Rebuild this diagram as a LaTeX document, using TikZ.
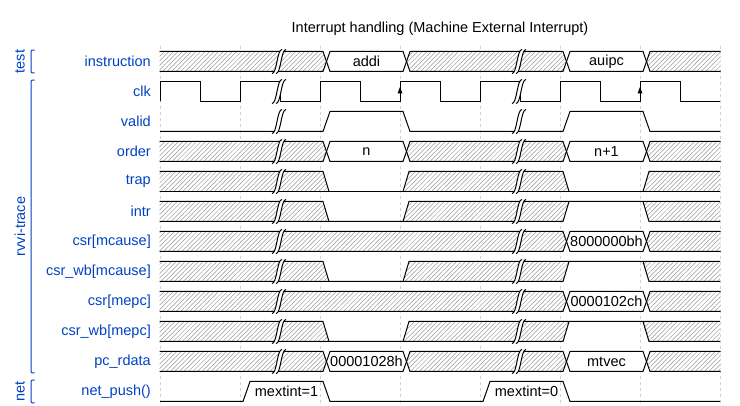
\documentclass[tikz,border=0pt]{standalone}
\usepackage{fontspec}
\setmainfont{Liberation Sans}
\usetikzlibrary{patterns.meta}
\definecolor{wblue}{HTML}{0041C4}
\newcommand{\wavefont}{\fontsize{14.5}{17}\selectfont}
% bus segment between two cycle edges, hatched or with a value
\newcommand{\xseg}[2]{\draw[wave,hatch] (#1+6.5,10) -- (#1+10,0) -- (#2+3,0) -- (#2+6.5,10) -- (#2+3,20) -- (#1+10,20) -- cycle;}
\newcommand{\dseg}[4]{\draw[wave,fill=white] (#1+6.5,10) -- (#1+10,0) -- (#2+3,0) -- (#2+6.5,10) -- (#2+3,20) -- (#1+10,20) -- cycle;
	\node (#3) at ({(#1+#2)/2+6.5},10) {#4};}
% x, 0, x, 1, x
\newcommand{\flagrow}{%
	\path[hatch] (140,0) -- (323,0) -- (329,20) -- (140,20) -- cycle;
	\path[hatch] (403,20) -- (409,0) -- (569,0) -- (563,20) -- cycle;
	\path[hatch] (643,0) -- (720,0) -- (720,20) -- (649,20) -- cycle;
	\draw[wave] (140,0) -- (323,0) -- (329,20);
	\draw[wave] (403,20) -- (409,0) -- (720,0);
	\draw[wave] (140,20) -- (563,20) -- (569,0);
	\draw[wave] (643,0) -- (649,20) -- (720,20);}
\newcommand{\gapmark}[1]{%
	\fill[white] (#1-7,22) .. controls (#1-2,22) and (#1-2,-2) .. (#1+3,-2) -- (#1+7,-2) .. controls (#1+2,-2) and (#1+2,22) .. (#1-3,22) -- cycle;
	\draw[wave] (#1-7,22) .. controls (#1-2,22) and (#1-2,-2) .. (#1+3,-2);
	\draw[wave] (#1-3,22) .. controls (#1+2,22) and (#1+2,-2) .. (#1+7,-2);}

\begin{document}
\begin{tikzpicture}[x=1pt,y=-1pt,every node/.style={font=\wavefont,inner sep=0pt},
	wave/.style={line width=1pt},
	hatch/.style={preaction={fill=white},pattern={Lines[angle=45,distance=3.2pt,line width=0.5pt]},pattern color=gray!80},
	siglbl/.style={anchor=east,text=wblue},
	grplbl/.style={rotate=90,text=wblue},
	brace/.style={wblue,line width=1pt},
	gridline/.style={gray!35,dash pattern=on 3pt off 3pt,line width=0.6pt}]
	\useasboundingbox (0,0) rectangle (740,406);
	\node (title) at (440,29) {Interrupt handling (Machine External Interrupt)};
	\foreach \gx in {160,240,...,720}
		\draw[gridline] (\gx,46) -- (\gx,406);
	% signal names
	\foreach \lbl/\nm [count=\k from 0] in {instruction/instr,clk/clk,valid/valid,order/order,trap/trap,intr/intr,{csr[mcause]}/mcause,{csr\_wb[mcause]}/wbmcause,{csr[mepc]}/mepc,{csr\_wb[mepc]}/wbmepc,pc\_rdata/pcr,net\_push()/push}
		\node[siglbl] (l\nm) at (151,61.5+30*\k) {\lbl};
	% groups
	\draw[brace] (34.5,50) .. controls (31,50) .. (31,54) -- (31,69) .. controls (31,73) .. (34.5,73);
	\node[grplbl] (gtest) at (20,61.5) {test};
	\draw[brace] (34.5,80) .. controls (31,80) .. (31,84) -- (31,369) .. controls (31,373) .. (34.5,373);
	\node[grplbl] (grvvi) at (20,226.5) {rvvi-trace};
	\draw[brace] (34.5,380) .. controls (31,380) .. (31,384) -- (31,399) .. controls (31,403) .. (34.5,403);
	\node[grplbl] (gnet) at (20,391.5) {net};
	\begin{scope}
		\clip (159.5,0) rectangle (720.5,406);
		% instruction
		\begin{scope}[shift={(0,51.5)}]
			\xseg{140}{320} \dseg{320}{400}{addi}{addi} \xseg{400}{560}
			\dseg{560}{640}{auipc}{auipc} \xseg{640}{720}
		\end{scope}
		% clk
		\begin{scope}[shift={(0,81.5)}]
			\draw[wave] (160,20) \foreach \cx in {160,240,...,640} { -- (\cx,0) -- (\cx+40,0) -- (\cx+40,20) -- (\cx+80,20) };
			\fill (400,5.5) -- (397.5,12) -- (402.5,12) -- cycle;
			\fill (640,5.5) -- (637.5,12) -- (642.5,12) -- cycle;
		\end{scope}
		% valid
		\begin{scope}[shift={(0,111.5)}]
			\draw[wave] (160,20) -- (323,20) -- (330,0) -- (403,0) -- (410,20) -- (563,20) -- (570,0) -- (643,0) -- (650,20) -- (720,20);
		\end{scope}
		% order
		\begin{scope}[shift={(0,141.5)}]
			\xseg{140}{320} \dseg{320}{400}{ordn}{n} \xseg{400}{560}
			\dseg{560}{640}{ordnn}{n+1} \xseg{640}{720}
		\end{scope}
		% trap
		\begin{scope}[shift={(0,171.5)}]
			\path[hatch] (140,0) -- (323,0) -- (329,20) -- (140,20) -- cycle;
			\path[hatch] (403,20) -- (409,0) -- (563,0) -- (569,20) -- cycle;
			\path[hatch] (643,20) -- (649,0) -- (720,0) -- (720,20) -- cycle;
			\draw[wave] (140,0) -- (323,0) -- (329,20);
			\draw[wave] (403,20) -- (409,0) -- (563,0) -- (569,20);
			\draw[wave] (643,20) -- (649,0) -- (720,0);
			\draw[wave] (140,20) -- (720,20);
		\end{scope}
		% intr
		\begin{scope}[shift={(0,201.5)}]
			\flagrow
		\end{scope}
		% csr[mcause]
		\begin{scope}[shift={(0,231.5)}]
			\xseg{140}{560} \dseg{560}{640}{mcv}{8000000bh} \xseg{640}{720}
		\end{scope}
		% csr_wb[mcause]
		\begin{scope}[shift={(0,261.5)}]
			\flagrow
		\end{scope}
		% csr[mepc]
		\begin{scope}[shift={(0,291.5)}]
			\xseg{140}{560} \dseg{560}{640}{mev}{0000102ch} \xseg{640}{720}
		\end{scope}
		% csr_wb[mepc]
		\begin{scope}[shift={(0,321.5)}]
			\flagrow
		\end{scope}
		% pc_rdata
		\begin{scope}[shift={(0,351.5)}]
			\xseg{140}{320} \dseg{320}{400}{pcv}{00001028h} \xseg{400}{560}
			\dseg{560}{640}{pcvec}{mtvec} \xseg{640}{720}
		\end{scope}
		% net_push()
		\begin{scope}[shift={(0,381.5)}]
			\draw[wave] (160,20) -- (243,20) -- (250,0) -- (323,0) -- (330,20) -- (483,20) -- (490,0) -- (563,0) -- (570,20) -- (720,20);
			\node (mext1) at (286.5,10) {mextint=1};
			\node (mext0) at (526.5,10) {mextint=0};
		\end{scope}
		% gaps
		\foreach \k in {0,...,10}{
			\begin{scope}[shift={(0,51.5+30*\k)}]
				\gapmark{279} \gapmark{519}
			\end{scope}
		}
	\end{scope}
\end{tikzpicture}
\end{document}
